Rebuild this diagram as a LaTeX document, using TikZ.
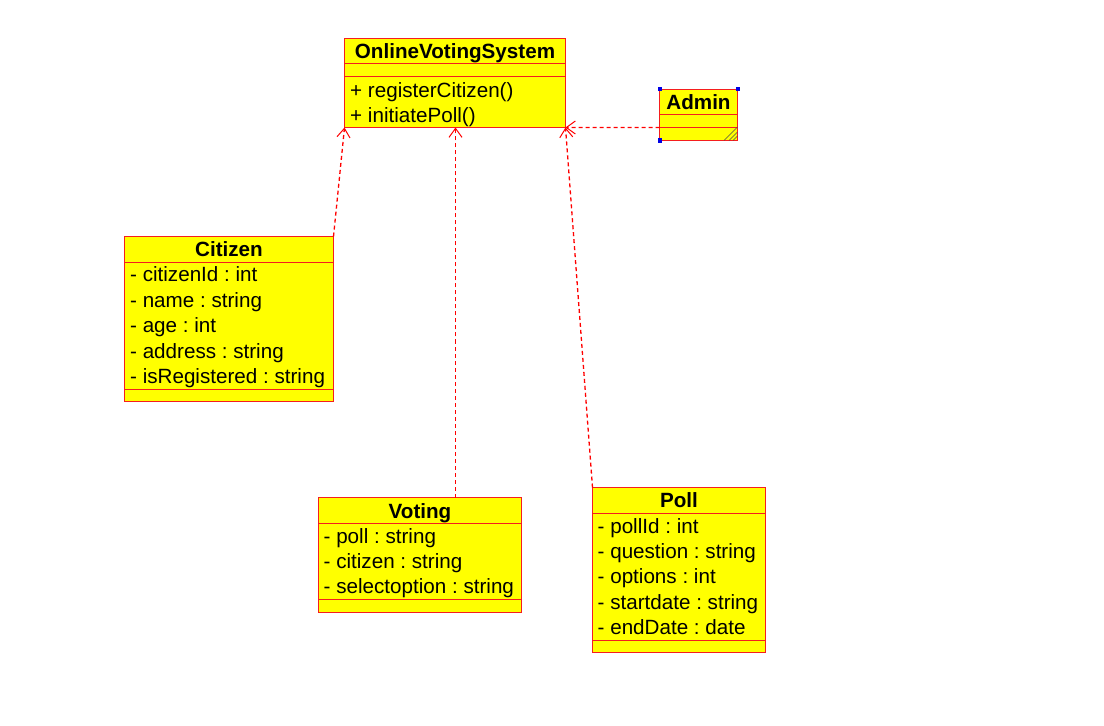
\documentclass[tikz,border=0pt]{standalone}
\usepackage{fontspec}
\setmainfont{Liberation Sans}
\usetikzlibrary{arrows.meta,calc}

\definecolor{umlyellow}{RGB}{255,255,0}
\definecolor{umlred}{RGB}{245,30,30}
\definecolor{handleblue}{RGB}{0,0,230}

\tikzstyle{classbox}  = [rectangle, draw=umlred, fill=umlyellow, line width=1bp
                        , inner sep=0pt, outer sep=0pt, anchor=north west]
\tikzstyle{classname} = [font=\fontsize{20.7}{24}\selectfont\bfseries
                        , inner sep=0pt, anchor=base]
\tikzstyle{member}    = [font=\fontsize{20.7}{24}\selectfont
                        , inner sep=0pt, anchor=base west]
\tikzstyle{divider}   = [draw=umlred, line width=1bp]
\tikzstyle{dep}       = [draw=red, line width=1.3bp, dash pattern=on 4bp off 3bp
                        , -{Straight Barb[length=9bp,width=13bp,line width=1bp]}]
\tikzstyle{handle}    = [rectangle, fill=handleblue, inner sep=0pt, minimum size=4bp]

\frenchspacing

\begin{document}
\begin{tikzpicture}[x=1bp, y=-1bp]

\useasboundingbox[fill=white] (0,0) rectangle (1104,726);

%% OnlineVotingSystem Node
\node [classbox, minimum width=221bp, minimum height=89bp] (OVS-Box) at (344.5,38.5) {};
\node [classname] (OVS-Name) at (455,58.3) {OnlineVotingSystem};
\draw [divider] (344.5,63.5) -- (565.5,63.5);
\draw [divider] (344.5,76.5) -- (565.5,76.5);
\node [member] (OVS-Op1) at (350,97.8) {+ registerCitizen()};
\node [member] (OVS-Op2) at (350,122.6) {+ initiatePoll()};

%% Admin Node
\node [classbox, minimum width=78bp, minimum height=51bp] (Admin-Box) at (659.5,89.5) {};
\node [classname] (Admin-Name) at (698.5,109.3) {Admin};
\draw [divider] (659.5,114.5) -- (737.5,114.5);
\draw [divider] (659.5,127.5) -- (737.5,127.5);
\draw [black!70, line width=0.6bp] (724,140.5) -- (737.5,127)
                                   (729,140.5) -- (737.5,132)
                                   (733,140.5) -- (737.5,136);
\node [handle] (Admin-H1) at (Admin-Box.north west) {};
\node [handle] (Admin-H2) at (Admin-Box.north east) {};
\node [handle] (Admin-H3) at (Admin-Box.south west) {};

%% Citizen Node
\node [classbox, minimum width=209bp, minimum height=165bp] (Citizen-Box) at (124.5,236.5) {};
\node [classname] (Citizen-Name) at (229,256.6) {Citizen};
\draw [divider] (124.5,262.5) -- (333.5,262.5);
\draw [divider] (124.5,389.5) -- (333.5,389.5);
\node [member] (Citizen-Attr1) at (130,281.7) {- citizenId : int};
\node [member] (Citizen-Attr2) at (130,307.2) {- name : string};
\node [member] (Citizen-Attr3) at (130,332.6) {- age : int};
\node [member] (Citizen-Attr4) at (130,358) {- address : string};
\node [member] (Citizen-Attr5) at (130,383.4) {- isRegistered : string};

%% Voting Node
\node [classbox, minimum width=203bp, minimum height=115bp] (Voting-Box) at (318.5,497.5) {};
\node [classname] (Voting-Name) at (420,518.3) {Voting};
\draw [divider] (318.5,523.5) -- (521.5,523.5);
\draw [divider] (318.5,599.5) -- (521.5,599.5);
\node [member] (Voting-Attr1) at (323.5,543.3) {- poll : string};
\node [member] (Voting-Attr2) at (323.5,568.3) {- citizen : string};
\node [member] (Voting-Attr3) at (323.5,593.3) {- selectoption : string};

%% Poll Node
\node [classbox, minimum width=173bp, minimum height=165bp] (Poll-Box) at (592.5,487.5) {};
\node [classname] (Poll-Name) at (679,507.3) {Poll};
\draw [divider] (592.5,513.5) -- (765.5,513.5);
\draw [divider] (592.5,640.5) -- (765.5,640.5);
\node [member] (Poll-Attr1) at (597.5,533.3) {- pollId : int};
\node [member] (Poll-Attr2) at (597.5,558.6) {- question : string};
\node [member] (Poll-Attr3) at (597.5,583.8) {- options : int};
\node [member] (Poll-Attr4) at (597.5,609) {- startdate : string};
\node [member] (Poll-Attr5) at (597.5,634.2) {- endDate : date};

%% Dependencies
\coordinate (Voting-Top) at ($(Voting-Box.north west)+(137,0)$);
\coordinate (OVS-Mid)    at ($(OVS-Box.south west)+(111,0)$);
\coordinate (Admin-Hook) at ($(Admin-Box.north west)+(0,38)$);

\draw [dep] (Citizen-Box.north east) -- (OVS-Box.south west);
\draw [dep] (Voting-Top) -- (OVS-Mid);
\draw [dep] (Poll-Box.north west) -- (OVS-Box.south east);
\draw [dep] (Admin-Hook) -- (OVS-Box.south east);

\end{tikzpicture}
\end{document}
